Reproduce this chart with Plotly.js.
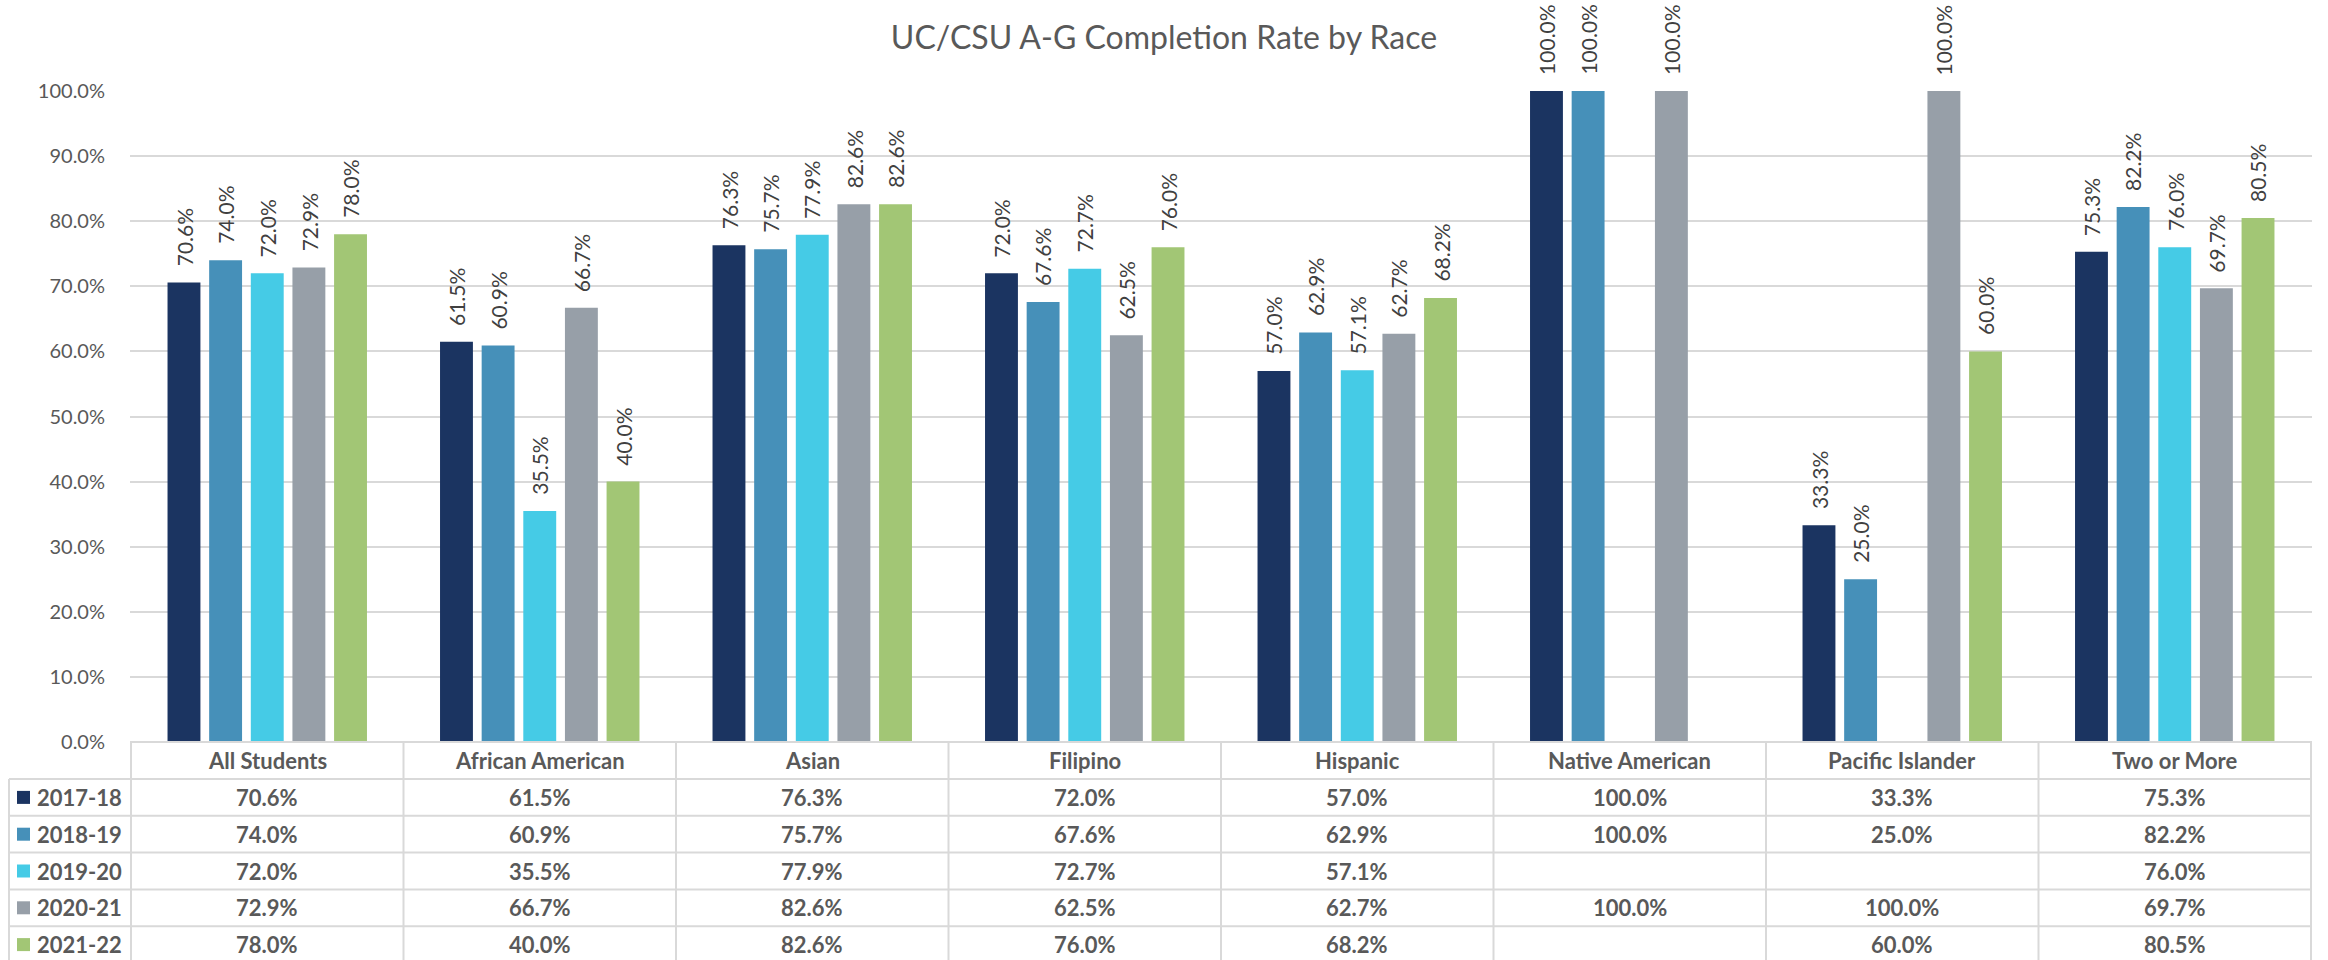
<!DOCTYPE html>
<html>
<head>
<meta charset="utf-8">
<script src="https://cdn.plot.ly/plotly-3.0.1.min.js"></script>
<style>html,body{margin:0;padding:0;background:#fff;}#chart{width:2328px;height:960px;}</style>
</head>
<body>
<div id="chart"></div>
<script>
// ---- data ----
const categories = ["All Students","African American","Asian","Filipino","Hispanic","Native American","Pacific Islander","Two or More"];
const seriesNames = ["2017-18","2018-19","2019-20","2020-21","2021-22"];
const v2017 = [70.6, 61.5, 76.3, 72.0, 57.0, 100.0, 33.3, 75.3];
const v2018 = [74.0, 60.9, 75.7, 67.6, 62.9, 100.0, 25.0, 82.2];
const v2019 = [72.0, 35.5, 77.9, 72.7, 57.1, null, null, 76.0];
const v2020 = [72.9, 66.7, 82.6, 62.5, 62.7, 100.0, 100.0, 69.7];
const v2021 = [78.0, 40.0, 82.6, 76.0, 68.2, null, 60.0, 80.5];
const yTicks = [0,10,20,30,40,50,60,70,80,90,100];
const yTickLabels = ["0.0%","10.0%","20.0%","30.0%","40.0%","50.0%","60.0%","70.0%","80.0%","90.0%","100.0%"];

const seriesValues = [v2017, v2018, v2019, v2020, v2021];
const colors = ["#1b3461","#4690b9","#45cbe6","#979fa8","#a2c675"];

// ---- layout geometry ----
const W = 2328, H = 960;
const M = {l:130, r:16, t:91, b:218};
const plotW = W - M.l - M.r, plotH = H - M.t - M.b;
const bargap = 0.236, bargroupgap = 0.21;
const catW = plotW / categories.length;
const pitch = catW * (1 - bargap) / seriesNames.length;
const py = p => (H - M.b - p) / plotH;      // pixel y -> paper y
const px = p => (p - M.l) / plotW;          // pixel x -> paper x

const textColor = "#595959";
const lineColor = "#d9d9d9";
const FONT = "Lato, 'Open Sans', sans-serif";

const traces = seriesNames.map((name, k) => ({
  type: "bar",
  name: name,
  x: categories,
  y: seriesValues[k],
  marker: {color: colors[k]},
  hoverinfo: "x+y+name",
  cliponaxis: false
}));

const shapes = [];
const annotations = [];

// data labels above bars
seriesValues.forEach((vals, k) => {
  vals.forEach((v, i) => {
    if (v === null) return;
    annotations.push({
      xref: "x", yref: "y", x: categories[i], y: v,
      xshift: (k - 2) * pitch, yshift: 14,
      text: v.toFixed(1) + "%", textangle: -90,
      showarrow: false, xanchor: "center", yanchor: "bottom",
      font: {family: FONT, size: 21, color: "#404040"}
    });
  });
});

// data table
const rowTop = 742, headerBottom = 779, rowH = 36.8;
const lineW = 2;
const rowLines = [headerBottom];
for (let r = 1; r <= seriesNames.length; r++) rowLines.push(headerBottom + r * rowH);

shapes.push({type:"line", xref:"paper", yref:"paper", x0:0, x1:1, y0:py(rowTop), y1:py(rowTop), line:{color:lineColor, width:lineW}});
rowLines.forEach(yv => {
  shapes.push({type:"line", xref:"paper", yref:"paper", x0:px(9), x1:1, y0:py(yv), y1:py(yv), line:{color:lineColor, width:lineW}});
});
shapes.push({type:"line", xref:"paper", yref:"paper", x0:px(9), x1:px(9), y0:py(headerBottom), y1:py(H+5), line:{color:lineColor, width:lineW}});
for (let i = 0; i <= categories.length; i++) {
  shapes.push({type:"line", xref:"x", yref:"paper", x0:i - 0.5, x1:i - 0.5, y0:py(rowTop), y1:py(H+5), line:{color:lineColor, width:lineW}});
}
categories.forEach((c, i) => {
  annotations.push({
    xref:"x", yref:"paper", x:c, y:py((rowTop + headerBottom) / 2),
    text:"<b>" + c + "</b>", showarrow:false, xanchor:"center", yanchor:"middle",
    font:{family:FONT, size:22, color:textColor}
  });
});
seriesNames.forEach((name, k) => {
  const yc = headerBottom + (k + 0.5) * rowH;
  shapes.push({type:"rect", xref:"paper", yref:"paper", x0:px(17), x1:px(30), y0:py(yc - 6.5), y1:py(yc + 6.5), fillcolor:colors[k], line:{width:0}});
  annotations.push({
    xref:"paper", yref:"paper", x:px(35), y:py(yc),
    text:"<b>" + name + "</b>", showarrow:false, xanchor:"left", yanchor:"middle",
    font:{family:FONT, size:22, color:textColor}
  });
  seriesValues[k].forEach((v, i) => {
    if (v === null) return;
    annotations.push({
      xref:"x", yref:"paper", x:categories[i], y:py(yc),
      text:"<b>" + v.toFixed(1) + "%</b>", showarrow:false, xanchor:"center", yanchor:"middle",
      font:{family:FONT, size:22, color:textColor}
    });
  });
});

const layout = {
  width: W, height: H,
  margin: M,
  paper_bgcolor: "#ffffff", plot_bgcolor: "#ffffff",
  font: {family: FONT, color: textColor},
  title: {text: "UC/CSU A-G Completion Rate by Race", x: 0.5, xanchor: "center", xref: "container",
          y: 1 - 38/H, yanchor: "middle", yref: "container",
          font: {family: FONT, size: 32, color: textColor}},
  barmode: "group",
  bargap: bargap, bargroupgap: bargroupgap,
  showlegend: false,
  xaxis: {type: "category", showticklabels: false, showgrid: false, zeroline: false, showline: false, ticks: "", fixedrange: true},
  yaxis: {range: [0, 100], tickmode: "array", tickvals: yTicks, ticktext: yTickLabels,
          showgrid: true, gridcolor: lineColor, gridwidth: 2, zeroline: false, showline: false,
          ticks: "outside", ticklen: 20, tickcolor: "rgba(0,0,0,0)",
          tickfont: {family: FONT, size: 20, color: textColor}, fixedrange: true},
  shapes: shapes,
  annotations: annotations
};

Plotly.newPlot("chart", traces, layout, {displayModeBar: false, staticPlot: true});
</script>
</body>
</html>
